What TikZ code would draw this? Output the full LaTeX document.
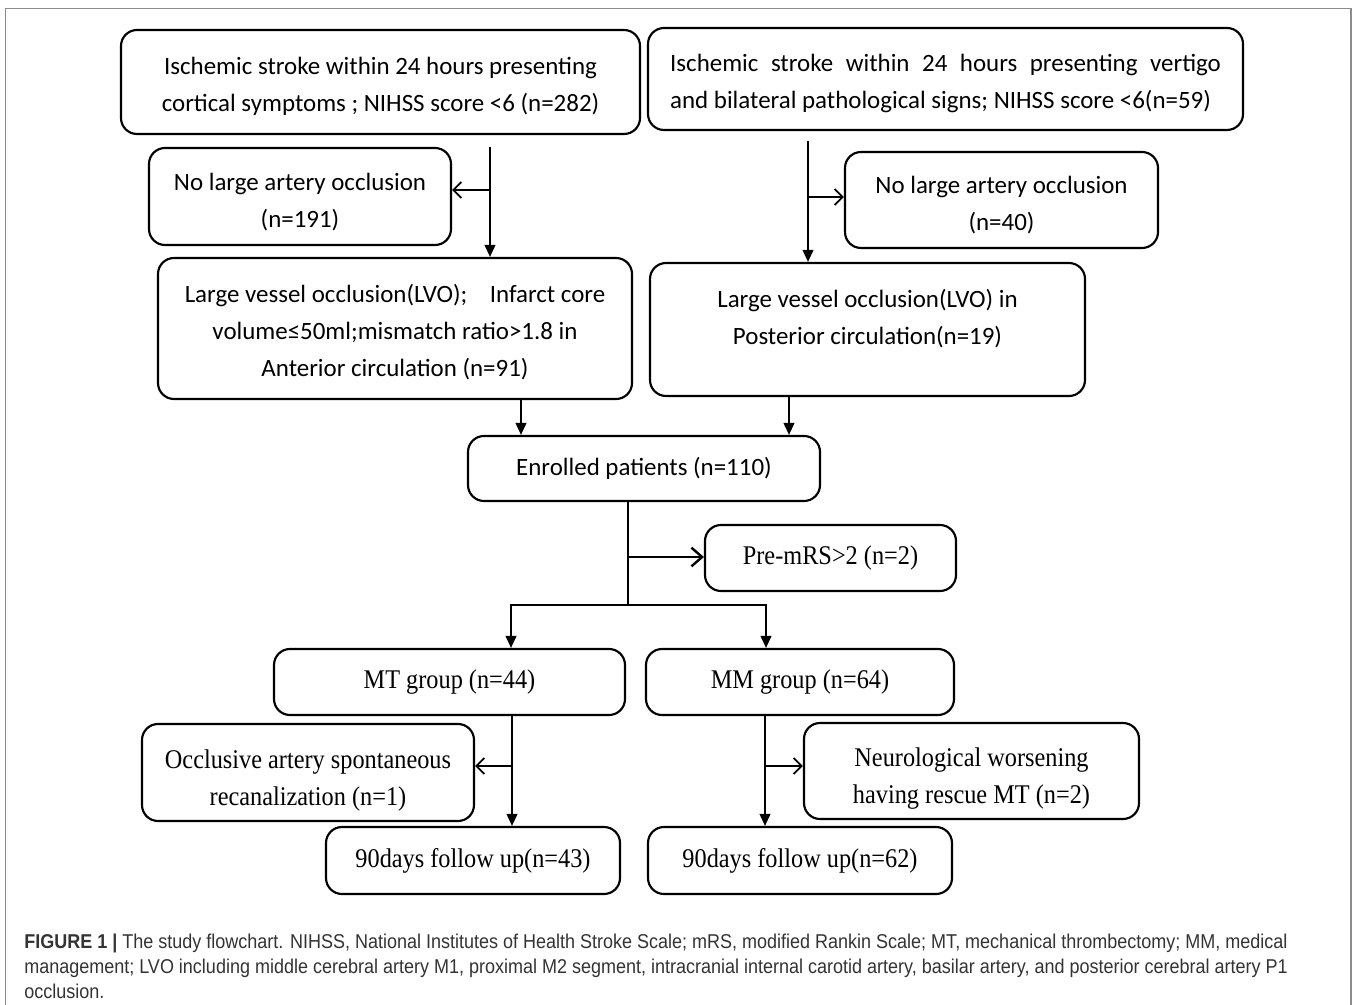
\documentclass[tikz,border=0pt]{standalone}
\usepackage{fontspec}
\setmainfont{Liberation Serif}
\newfontfamily\calfont{Carlito}
\newfontfamily\tmsfont[FakeStretch=0.9]{Liberation Serif}
\newfontfamily\capfont[FakeStretch=0.9]{Liberation Sans}
\usetikzlibrary{arrows.meta}
\definecolor{capgray}{HTML}{333333}
\definecolor{framegray}{HTML}{8C8C8C}
\newcommand{\mybox}[7][]{\node[#1,minimum width={(#4-#2)*0.75pt},minimum height={(#5-#3)*0.75pt}] (#6) at ({(#2+#4)/2},{(#3+#5)/2}) {#7};}
\begin{document}
\begin{tikzpicture}[x=0.75pt,y=-0.75pt,
  box/.style={draw, line width=1.6pt, rounded corners=12pt, align=center, inner sep=0pt},
  calbox/.style={box, font=\calfont\fontsize{18.7}{27.75}\selectfont},
  tmsbox/.style={box, font=\tmsfont\fontsize{20.25}{27.75}\selectfont},
  conn/.style={line width=1.4pt},
  flow/.style={conn, -{Triangle[length=9pt,width=8pt]}},
  side/.style={conn, -{Straight Barb[length=6pt,width=12pt]}},
  bigside/.style={line width=1.8pt, -{Straight Barb[length=8pt,width=14pt]}}]
\useasboundingbox (0,0) rectangle (1357,1005);
\draw[framegray, line width=0.8pt] (5.5,8.5) rectangle (1351,1020);

% boxes
\mybox[calbox]{121}{30}{640}{134}{a1}{\mbox{}\\[-8pt]Ischemic stroke within 24 hours presenting\\cortical symptoms ; NIHSS score <6 (n=282)}
\mybox[calbox,align=left]{648}{28}{1243}{130}{b1}{\mbox{}\\[-8pt]\makebox[413pt][s]{Ischemic stroke within 24 hours presenting vertigo}\\and bilateral pathological signs; NIHSS score <6(n=59)}
\mybox[calbox]{149}{148}{451}{245}{a2}{\mbox{}\\[-7pt]No large artery occlusion\\(n=191)}
\mybox[calbox]{845}{152}{1158}{248}{b2}{\mbox{}\\[-7pt]No large artery occlusion\\(n=40)}
\mybox[calbox]{158}{258}{632}{399}{a3}{\mbox{}\\[-8pt]Large vessel occlusion(LVO);\hspace{0.9em}Infarct core\\volume≤50ml;mismatch ratio>1.8 in\\Anterior circulation (n=91)}
\mybox[calbox]{650}{263}{1085}{396}{b3}{Large vessel occlusion(LVO) in\\Posterior circulation(n=19)\\[-9pt]\mbox{}}
\mybox[calbox]{468}{436}{820}{501}{en}{Enrolled patients (n=110)}
\mybox[tmsbox]{705}{525}{956}{591}{pm}{Pre-mRS>2 (n=2)}
\mybox[tmsbox]{274}{649}{625}{715}{mt}{MT group (n=44)}
\mybox[tmsbox]{646}{649}{954}{715}{mm}{MM group (n=64)}
\mybox[tmsbox]{142}{724}{474}{821}{oc}{\mbox{}\\[-2pt]Occlusive artery spontaneous\\recanalization (n=1)}
\mybox[tmsbox]{804}{723}{1139}{819}{nw}{\mbox{}\\[-2pt]Neurological worsening\\having rescue MT (n=2)}
\mybox[tmsbox]{326}{827}{620}{894}{fl}{90days follow up(n=43)}
\mybox[tmsbox]{648}{827}{952}{894}{fr}{90days follow up(n=62)}

% junction points
\coordinate (j1) at (490,190);
\coordinate (j2) at (808,197);
\coordinate (k1) at (521,420);
\coordinate (k2) at (789,420);
\coordinate (j3) at (628,557);
\coordinate (j4) at (628,605);
\coordinate (l1) at (511,605);
\coordinate (r1) at (766,605);
\coordinate (j5) at (512,766);
\coordinate (j6) at (765,766);

% connectors
\draw[flow] ([yshift=-9pt]a1.south -| j1) -- (a3.north -| j1);
\draw[side] (j1) -- (a2.east |- j1);
\draw[flow] ([yshift=-7.5pt]b1.south -| j2) -- (b3.north -| j2);
\draw[side] (j2) -- (b2.west |- j2);
\draw[flow] (a3.south -| k1) -- (en.north -| k1);
\draw[flow] (b3.south -| k2) -- (en.north -| k2);
\draw[conn] (en.south -| j3) -- (j4);
\draw[bigside] (j3) -- (pm.west |- j3);
\draw[flow] (j4) -- (l1) -- (mt.north -| l1);
\draw[flow] (j4) -- (r1) -- (mm.north -| r1);
\draw[flow] (mt.south -| j5) -- (fl.north -| j5);
\draw[side] (j5) -- (oc.east |- j5);
\draw[flow] (mm.south -| j6) -- (fr.north -| j6);
\draw[side] (j6) -- (nw.west |- j6);

% caption
\node[anchor=west, font=\capfont\fontsize{15}{18.75}\selectfont, align=left, text=capgray, inner sep=0pt] (cap) at (24,966)
  {\textbf{FIGURE 1 |} The study flowchart. NIHSS, National Institutes of Health Stroke Scale; mRS, modified Rankin Scale; MT, mechanical thrombectomy; MM, medical\\
   management; LVO including middle cerebral artery M1, proximal M2 segment, intracranial internal carotid artery, basilar artery, and posterior cerebral artery P1\\
   occlusion.};
\end{tikzpicture}
\end{document}
